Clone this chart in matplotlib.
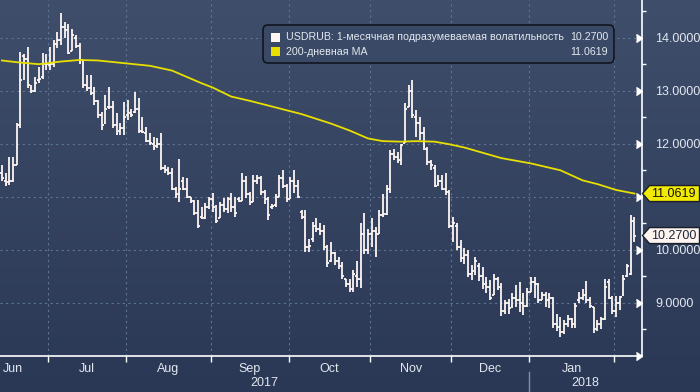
import matplotlib
matplotlib.use("Agg")
import matplotlib.pyplot as plt
import numpy as np
from matplotlib.patches import Polygon, FancyBboxPatch, Rectangle
from matplotlib.lines import Line2D
from matplotlib.transforms import IdentityTransform, blended_transform_factory

# daily OHLC of USDRUB 1M implied vol, one bar per weekday (Jun 14 2017 - Feb 8 2018)
bar_open = [
    11.45, 11.30, 11.28, 11.30, 11.60, 12.35, 13.65, 13.60, 13.05, 13.00, 13.20, 13.25, 13.50,  # jun
    13.48, 13.50, 13.88, 13.95, 14.20, 14.20, 13.75, 14.00, 13.85, 13.58, 13.10, 13.05, 12.95,
    12.80, 12.55, 12.40, 12.70, 12.70, 12.35, 12.25, 12.30,  # jul
    12.55, 12.58, 12.60, 12.65, 12.25, 12.20, 12.05, 12.00, 11.95, 12.00, 11.55, 11.50, 11.45,
    11.15, 11.05, 11.30, 11.15, 11.00, 10.92, 10.70, 10.62, 10.60, 10.80,  # aug
    10.95, 10.75, 10.60, 10.85, 10.78, 10.95, 10.80, 10.95, 10.92, 11.30, 11.05, 10.90, 11.30,
    11.35, 11.10, 10.95, 10.80, 10.85, 11.00, 11.35, 11.20,  # sep
    10.95, 11.30, 11.20, 10.72, 10.62, 10.05, 10.20, 10.45, 10.40, 10.35, 10.05, 9.80, 9.95,
    9.80, 9.70, 9.45, 9.35, 9.27, 9.50, 9.45, 10.30, 10.00,  # oct
    10.30, 10.35, 10.30, 10.65, 10.68, 11.15, 11.80, 11.75, 11.70, 12.01, 12.70, 13.00, 12.50,
    12.40, 12.20, 11.90, 11.65, 11.55, 11.25, 11.30, 11.15, 11.10,  # nov
    10.45, 10.45, 10.05, 9.85, 9.90, 9.55, 9.65, 9.70, 9.50, 9.40, 9.30, 9.15, 9.45,
    9.30, 8.85, 9.00, 8.95, 9.10, 9.05, 9.00, 8.95,  # dec
    9.20, 9.40, 9.35, 9.05, 9.15, 9.05, 9.10, 8.60, 8.55, 8.45, 8.60, 8.70, 8.60,
    9.05, 9.10, 9.15, 9.05, 8.92, 8.50, 8.60, 8.70, 9.40, 9.10,  # jan
    8.85, 9.00, 9.15, 9.50, 9.55, 10.55,  # feb
]
bar_high = [
    11.60, 11.45, 11.75, 11.75, 12.40, 13.73, 13.70, 13.83, 13.10, 13.26, 13.45, 13.71, 13.70,
    13.82, 13.96, 14.10, 14.47, 14.30, 14.25, 14.16, 14.05, 13.90, 13.58, 13.30, 13.30, 13.07,
    12.82, 12.60, 12.92, 13.07, 12.80, 12.58, 12.39, 12.79,
    12.82, 12.65, 12.97, 12.86, 12.50, 12.31, 12.20, 12.12, 12.10, 12.20, 11.60, 11.56, 11.54,
    11.18, 11.71, 11.38, 11.35, 11.00, 10.94, 10.94, 10.81, 10.88, 11.00,
    11.07, 10.85, 10.90, 10.97, 11.00, 11.07, 11.00, 11.00, 11.45, 11.40, 11.10, 11.41, 11.41,
    11.39, 11.12, 11.00, 10.87, 11.06, 11.41, 11.50, 11.25,
    11.38, 11.50, 11.31, 10.75, 10.75, 10.21, 10.52, 10.61, 10.50, 10.46, 10.09, 10.14, 9.96,
    9.87, 9.77, 9.46, 9.46, 9.62, 9.80, 10.50, 10.69, 10.40,
    10.60, 10.43, 10.75, 11.06, 11.22, 11.88, 11.91, 11.85, 12.00, 12.77, 13.10, 13.20, 12.64,
    12.51, 12.31, 11.94, 11.69, 11.60, 11.41, 11.41, 11.44, 11.12,
    10.62, 10.50, 10.18, 10.03, 10.00, 9.71, 9.87, 9.75, 9.68, 9.48, 9.43, 9.55, 9.49,
    9.37, 9.05, 9.08, 9.18, 9.33, 9.40, 9.18, 9.29,
    9.49, 9.48, 9.37, 9.21, 9.21, 9.18, 9.11, 8.80, 8.73, 8.67, 8.77, 8.71, 9.00,
    9.20, 9.27, 9.42, 9.11, 8.92, 8.67, 8.74, 9.46, 9.46, 9.14,
    9.14, 9.14, 9.52, 9.74, 10.65, 10.62,
]
bar_low = [
    11.30, 11.20, 11.22, 11.28, 11.60, 12.30, 13.20, 13.05, 12.95, 12.98, 13.15, 13.22, 13.40,
    13.40, 13.45, 13.80, 13.86, 14.00, 13.70, 13.75, 13.80, 13.50, 13.05, 13.00, 12.92, 12.73,
    12.48, 12.26, 12.38, 12.65, 12.30, 12.16, 12.16, 12.16,
    12.45, 12.50, 12.58, 12.20, 12.20, 12.03, 11.98, 11.88, 11.92, 11.50, 11.45, 11.41, 11.12,
    10.97, 10.90, 11.12, 10.97, 10.88, 10.65, 10.41, 10.58, 10.58, 10.78,
    10.72, 10.50, 10.60, 10.72, 10.70, 10.72, 10.62, 10.90, 10.92, 10.97, 10.85, 10.90, 11.25,
    11.03, 10.87, 10.56, 10.78, 10.81, 11.00, 11.16, 10.90,
    10.95, 11.07, 10.97, 10.59, 9.96, 9.96, 10.14, 10.33, 10.28, 9.99, 9.67, 9.77, 9.71,
    9.64, 9.46, 9.30, 9.20, 9.20, 9.30, 9.29, 9.93, 9.93,
    10.05, 9.86, 10.30, 10.62, 10.65, 11.07, 11.69, 11.63, 11.60, 12.01, 12.69, 12.48, 12.12,
    12.07, 11.88, 11.60, 11.50, 11.19, 11.20, 11.12, 11.03, 10.41,
    10.14, 10.00, 9.77, 9.74, 9.48, 9.43, 9.52, 9.42, 9.27, 9.18, 9.05, 9.15, 9.24,
    8.76, 8.80, 8.80, 8.90, 8.92, 8.83, 8.77, 8.92,
    9.20, 9.10, 8.99, 9.05, 8.92, 8.90, 8.52, 8.48, 8.35, 8.42, 8.55, 8.52, 8.52,
    9.00, 9.05, 9.00, 8.90, 8.44, 8.48, 8.50, 8.68, 9.08, 8.80,
    8.74, 8.86, 9.14, 9.49, 9.52, 10.14,
]
bar_close = [
    11.35, 11.25, 11.30, 11.60, 12.38, 13.20, 13.60, 13.10, 13.00, 13.15, 13.22, 13.45, 13.50,
    13.50, 13.88, 13.95, 14.20, 14.15, 13.72, 14.05, 13.85, 13.55, 13.10, 13.05, 12.95, 12.80,
    12.55, 12.35, 12.65, 12.70, 12.35, 12.20, 12.30, 12.50,
    12.60, 12.55, 12.65, 12.25, 12.22, 12.05, 12.02, 11.92, 12.00, 11.55, 11.50, 11.45, 11.15,
    11.05, 11.15, 11.15, 11.00, 10.92, 10.70, 10.45, 10.65, 10.80, 10.95,
    10.80, 10.55, 10.85, 10.78, 10.95, 10.80, 10.70, 10.92, 11.30, 11.05, 10.90, 11.30, 11.35,
    11.10, 10.95, 10.65, 10.82, 11.00, 11.35, 11.20, 10.95,
    11.30, 11.20, 11.00, 10.62, 10.05, 10.08, 10.45, 10.40, 10.35, 10.05, 9.75, 9.95, 9.80,
    9.70, 9.50, 9.35, 9.27, 9.55, 9.45, 10.30, 10.00, 10.30,
    10.35, 10.30, 10.65, 10.68, 11.15, 11.80, 11.75, 11.70, 11.98, 12.65, 13.00, 12.55, 12.40,
    12.20, 11.95, 11.65, 11.60, 11.20, 11.30, 11.15, 11.10, 10.45,
    10.50, 10.05, 9.85, 9.90, 9.55, 9.60, 9.80, 9.50, 9.35, 9.30, 9.10, 9.45, 9.30,
    8.85, 9.00, 8.90, 9.10, 9.05, 9.00, 8.95, 9.20,
    9.40, 9.35, 9.05, 9.15, 9.05, 9.10, 8.60, 8.55, 8.45, 8.60, 8.70, 8.60, 8.95,
    9.10, 9.15, 9.05, 8.95, 8.50, 8.60, 8.70, 9.30, 9.10, 8.85,
    9.00, 9.12, 9.45, 9.70, 10.55, 10.27,
]

# 200-day moving average, read at a few bars
ma_idx = [0, 5, 10, 16, 21, 26, 33, 40, 46, 50, 54, 57, 62, 67, 81, 89, 94, 99,
          103, 108, 112, 117, 121, 125, 135, 143, 151, 157, 161, 166, 171]
ma_val = [13.57, 13.53, 13.50, 13.55, 13.58, 13.57, 13.52, 13.47, 13.38, 13.26, 13.14,
          13.06, 12.89, 12.81, 12.56, 12.38, 12.25, 12.10, 12.05, 12.04, 12.05, 12.04,
          11.99, 11.93, 11.73, 11.63, 11.50, 11.31, 11.24, 11.13, 11.0619]

month_start = [13, 34, 57, 78, 100, 122, 143, 166]   # first bar of Jul..Feb
month_names = ['Jun', 'Jul', 'Aug', 'Sep', 'Oct', 'Nov', 'Dec', 'Jan']
month_label_x = [3, 23, 45, 67, 88.5, 110.5, 132, 154]
year_names = ['2017', '2018']
year_label_x = [71, 157.7]
y_ticks = [9, 10, 11, 12, 13, 14]

last_vol = 10.27
last_ma = 11.0619
legend_names = ['USDRUB: 1-месячная подразумеваемая волатильность', '200-дневная MA']

FONT = ['Liberation Sans', 'DejaVu Sans']
plt.rcParams['font.family'] = FONT
TXT = '#e2e8f0'
BAR = '#fdf6f2'
YEL = '#e8df00'
W, H = 700, 392

fig = plt.figure(figsize=(W / 100, H / 100), dpi=100)

# gradient background
bg = fig.add_axes([0, 0, 1, 1], zorder=0)
bg.axis('off')
g = np.linspace(0, 1, 256)[:, None, None]
top = np.array([63, 78, 107]) / 255
bot = np.array([42, 56, 85]) / 255
bg.imshow(top + (bot - top) * g, aspect='auto', extent=[0, 1, 0, 1])
bg.set_xlim(0, 1)
bg.set_ylim(0, 1)

ax = fig.add_axes([0, 1 - 356 / H, 641.5 / W, 356 / H], zorder=1)
ax.patch.set_alpha(0)
x = np.arange(len(bar_close))
ax.set_xlim(-0.5, 172.9)
ax.set_ylim(8.0, 14.71)

# OHLC bars
ax.vlines(x, bar_low, bar_high, color=BAR, lw=1.3, zorder=3)
ax.hlines(bar_open, x - 0.5, x, color=BAR, lw=1.3, zorder=3)
ax.hlines(bar_close, x, x + 0.5, color=BAR, lw=1.3, zorder=3)

ax.plot(ma_idx, ma_val, color=YEL, lw=1.3, zorder=4)

# grid / ticks
bounds = np.array(month_start) - 0.5
ax.set_xticks(bounds)
ax.set_xticklabels([])
ax.set_xticks(month_label_x, minor=True)
ax.set_xticklabels(month_names, minor=True)
ax.tick_params(axis='x', which='major', length=4, width=1, color='white', direction='out')
ax.tick_params(axis='x', which='minor', length=0, pad=5, labelsize=9, labelcolor=TXT)

ax.yaxis.tick_right()
ax.set_yticks(y_ticks)
# the 11 label sits under the MA value tag, as in the original
ax.set_yticklabels(['' if v == 11 else f'{v:.4f}' for v in y_ticks])
ax.set_yticks(np.arange(8.5, 14.6, 1.0), minor=True)
ax.tick_params(axis='y', which='major', length=0, pad=10, labelsize=9, labelcolor=TXT)
ax.tick_params(axis='y', which='minor', length=3, width=1, color='white', direction='out')

ax.grid(True, which='major', color='#5d7595', lw=0.8, ls=(0, (2, 3)))
for s in ['left', 'top']:
    ax.spines[s].set_visible(False)
for s in ['right', 'bottom']:
    ax.spines[s].set_color('white')
    ax.spines[s].set_linewidth(1.2)

tr = blended_transform_factory(ax.transAxes, ax.transData)
ax.plot([1] * 7, list(range(8, 15)), ls='none', marker=5, ms=6, color='white',
        transform=tr, clip_on=False, zorder=6)

tb = blended_transform_factory(ax.transData, ax.transAxes)
for xv, s in zip(year_label_x, year_names):
    ax.text(xv, -27 / 356, s, transform=tb, ha='center', va='center', color=TXT, fontsize=9)
ax.add_line(Line2D([142.5, 142.5], [-16 / 356, -36 / 356], transform=tb,
                   color='#8090a8', lw=1, clip_on=False))

# value tags on the right axis
idt = IdentityTransform()


def tag(val, face, tcol):
    xr = ax.transAxes.transform((1, 0))[0]
    yd = ax.transData.transform((0, val))[1]
    h = 8
    pts = [(xr + 1, yd), (xr + 8, yd + h), (W - 0.5, yd + h), (W - 0.5, yd - h), (xr + 8, yd - h)]
    fig.patches.append(Polygon(pts, closed=True, transform=idt, facecolor=face,
                               edgecolor='#1a1f2a', lw=1, zorder=5))
    fig.text(xr + 10, yd, f'{val:.4f}', transform=idt, ha='left', va='center',
             color=tcol, fontsize=9, zorder=6)


tag(last_ma, '#f2ea00', '#111111')
tag(last_vol, '#fdf3ef', '#1c2538')

# legend box
fig.patches.append(FancyBboxPatch((263, H - 63), 351, 38, boxstyle='round,pad=0,rounding_size=5',
                                  transform=idt, facecolor='#3a4965', edgecolor='#10151f',
                                  lw=1.2, zorder=5))
for i, (name, val, col) in enumerate(zip(legend_names, [last_vol, last_ma], [BAR, YEL])):
    yc = H - (37.5 + 14.5 * i)
    fig.patches.append(Rectangle((271, yc - 4), 9, 9, transform=idt, facecolor=col,
                                 edgecolor='none', zorder=6))
    fig.text(286, yc, name, transform=idt, ha='left', va='center', color=TXT,
             fontsize=7.7, zorder=6)
    fig.text(608, yc, f'{val:.4f}', transform=idt, ha='right', va='center', color=TXT,
             fontsize=7.7, zorder=6)

fig.savefig('out.png', dpi=100)
